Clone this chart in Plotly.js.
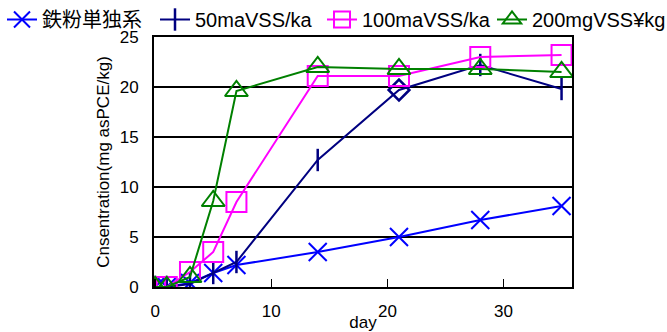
<!DOCTYPE html>
<html>
<head>
<meta charset="utf-8">
<script src="https://cdn.plot.ly/plotly-3.0.1.min.js"></script>
<style>html,body{margin:0;padding:0;background:#fff;}#chart{width:667px;height:332px;}</style>
</head>
<body>
<div id="chart"></div>
<script>
var seriesNames = ["鉄粉単独系", "50maVSS/ka", "100maVSS/ka", "200mgVSS¥kg"];
var days = [0, 1, 3, 5, 7, 14, 21, 28, 35];
var ironOnly = [0, 0, 0.4, 1.4, 2.2, 3.5, 5.0, 6.7, 8.1];
var vss50 = [0, 0, 0.3, 1.4, 2.5, 12.7, 19.7, 22.2, 19.8];
var vss100 = [0, 0, 1.5, 3.5, 8.5, 21.1, 21.1, 23.0, 23.2];
var vss200 = [0, 0, 1.0, 8.6, 19.6, 22.0, 21.8, 21.8, 21.5];
var vss50Symbols = ["line-ns-open", "line-ns-open", "line-ns-open", "line-ns-open", "line-ns-open", "line-ns-open", "diamond-open", "line-ns-open", "line-ns-open"];

var traces = [
  {x: days, y: ironOnly, name: seriesNames[0], legend: "legend", mode: "lines+markers", type: "scatter",
   line: {color: "#0000ff", width: 2}, marker: {symbol: "x-thin-open", size: 18, color: "#0000ff", line: {color: "#0000ff", width: 2}}},
  {x: days, y: vss50, name: seriesNames[1], legend: "legend2", mode: "lines+markers", type: "scatter",
   line: {color: "#000080", width: 2}, marker: {symbol: vss50Symbols, size: 16, color: "#000080", line: {color: "#000080", width: 2.5}}},
  {x: days, y: vss100, name: seriesNames[2], legend: "legend3", mode: "lines+markers", type: "scatter",
   line: {color: "#ff00ff", width: 2}, marker: {symbol: "square-open", size: 20, color: "#ff00ff", line: {color: "#ff00ff", width: 2}}},
  {x: days, y: vss200, name: seriesNames[3], legend: "legend4", mode: "lines+markers", type: "scatter",
   line: {color: "#008000", width: 2}, marker: {symbol: "triangle-up-open", size: 20, color: "#008000", line: {color: "#008000", width: 2}}}
];

var fontFam = "Liberation Sans, Arial, Noto Sans CJK JP, sans-serif";
function legendAt(px) {
  return {orientation: "h", xref: "container", yref: "container", x: px / 667, y: 1,
          xanchor: "left", yanchor: "top", font: {family: fontFam, size: 20, color: "#000"},
          bgcolor: "rgba(0,0,0,0)", itemwidth: 30};
}
var layout = {
  width: 667, height: 332,
  margin: {l: 154, r: 95, t: 37, b: 45, pad: 0, autoexpand: false},
  paper_bgcolor: "#ffffff", plot_bgcolor: "#ffffff",
  font: {family: fontFam, size: 17, color: "#000"},
  showlegend: true,
  legend: legendAt(2),
  legend2: legendAt(155),
  legend3: legendAt(322),
  legend4: legendAt(492),
  xaxis: {range: [-0.1, 35.9], dtick: 10, tick0: 0, showgrid: false, zeroline: false,
          ticks: "inside", ticklen: 8, tickwidth: 1.5, tickcolor: "#000",
          showline: true, linecolor: "#000", linewidth: 2, mirror: true,
          ticklabelstandoff: 8,
          title: {text: "day", font: {size: 17}, standoff: 0}},
  yaxis: {range: [0, 25], dtick: 5, tick0: 0, showgrid: true, gridcolor: "#000", gridwidth: 1.5, zeroline: false,
          ticks: "", showline: true, linecolor: "#000", linewidth: 2, mirror: true,
          ticklabelstandoff: 10,
          title: {text: "Cnsentration(mg asPCE/kg)", font: {size: 17}, standoff: 6}}
};

Plotly.newPlot("chart", traces, layout, {displayModeBar: false, staticPlot: true});
</script>
</body>
</html>
